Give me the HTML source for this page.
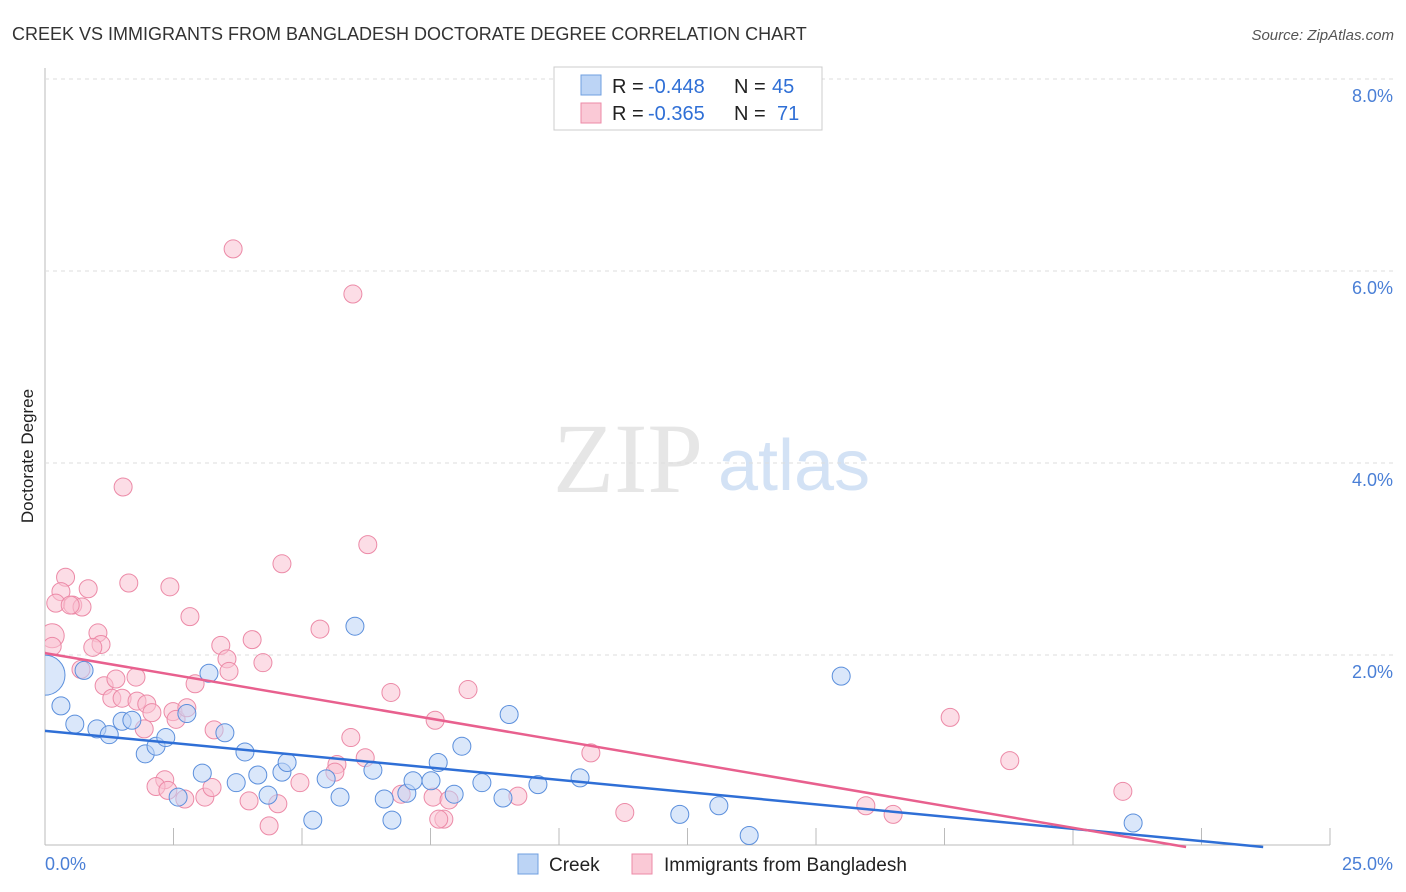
<!DOCTYPE html>
<html><head><meta charset="utf-8"><style>
body{margin:0;background:#fff;font-family:"Liberation Sans",sans-serif;}
#wrap{position:relative;width:1406px;height:892px;overflow:hidden;}
</style></head><body>
<div id="wrap">
<svg id="svg" width="1406" height="892" xmlns="http://www.w3.org/2000/svg">
<defs><clipPath id="plotclip"><rect x="45" y="60" width="1360" height="790"/></clipPath></defs>
<text x="12" y="40" font-size="18" fill="#333">CREEK VS IMMIGRANTS FROM BANGLADESH DOCTORATE DEGREE CORRELATION CHART</text>
<text x="1394" y="40" font-size="15" fill="#555" font-style="italic" text-anchor="end">Source: ZipAtlas.com</text>
<text x="33" y="456" font-size="17" fill="#222" text-anchor="middle" transform="rotate(-90 33 456)">Doctorate Degree</text>
<text x="553" y="492" font-size="100" fill="#e6e6e6" font-family="Liberation Serif,serif">ZIP</text>
<text x="718" y="490" font-size="72" fill="#d3e2f5">atlas</text>
<g id="grid"></g><g id="marks" clip-path="url(#plotclip)"></g>
<g>
<rect x="554" y="67" width="268" height="63" fill="#fff" stroke="#ccc"/>
<rect x="581" y="75" width="20" height="20" fill="#bcd4f5" stroke="#6f9fe0"/>
<rect x="581" y="103" width="20" height="20" fill="#fac9d6" stroke="#ec8aa7"/>
<text x="612" y="93" font-size="20" fill="#222">R =</text>
<text x="648" y="93" font-size="20" fill="#2f6fd6">-0.448</text>
<text x="734" y="93" font-size="20" fill="#222">N =</text>
<text x="772" y="93" font-size="20" fill="#2f6fd6">45</text>
<text x="612" y="120" font-size="20" fill="#222">R =</text>
<text x="648" y="120" font-size="20" fill="#2f6fd6">-0.365</text>
<text x="734" y="120" font-size="20" fill="#222">N =</text>
<text x="777" y="120" font-size="20" fill="#2f6fd6">71</text>
</g>
<g>
<rect x="518" y="854" width="20" height="20" fill="#bcd4f5" stroke="#6f9fe0"/>
<text x="549" y="871" font-size="19" fill="#222">Creek</text>
<rect x="632" y="854" width="20" height="20" fill="#fac9d6" stroke="#ec8aa7"/>
<text x="664" y="871" font-size="19" fill="#222">Immigrants from Bangladesh</text>
</g>
</svg></div>
<script>
const xTicks=[0,2.5,5,7.5,10,12.5,15,17.5,20,22.5,25];
const yTicks=[2,4,6,8];
const yTickLabels=["2.0%","4.0%","6.0%","8.0%"];
const creekX=[0,0.76,0.31,0.58,1.01,1.25,1.5,1.69,1.95,2.16,2.35,2.59,2.76,3.19,3.06,3.5,3.72,3.89,4.14,4.34,4.61,4.71,5.21,5.47,5.74,6.03,6.38,6.6,6.75,7.04,7.16,7.51,7.65,7.96,8.11,8.5,8.91,9.03,9.59,10.41,12.35,13.11,13.7,15.49,21.17];
const creekY=[1.79,1.84,1.47,1.28,1.23,1.17,1.31,1.32,0.97,1.05,1.14,0.52,1.39,1.81,0.77,1.19,0.67,0.99,0.75,0.54,0.78,0.88,0.28,0.71,0.52,2.3,0.8,0.5,0.28,0.56,0.69,0.69,0.88,0.55,1.05,0.67,0.51,1.38,0.65,0.72,0.34,0.43,0.12,1.78,0.25];
const bangX=[0.14,0.14,0.4,0.31,0.21,0.54,0.72,0.84,0.49,1.03,1.09,0.93,1.52,1.63,2.43,2.82,3.66,5.99,6.28,4.61,5.35,4.03,3.42,3.54,3.58,4.24,2.92,0.7,1.15,1.38,1.77,1.3,1.5,1.79,1.98,2.08,2.49,2.55,2.76,1.93,3.29,6.73,8.23,5.95,7.59,10.62,18.77,17.61,20.97,6.23,5.68,5.64,2.33,2.16,2.39,2.72,3.11,3.25,3.97,4.53,4.96,4.36,6.93,7.55,7.76,7.66,9.2,7.86,11.28,15.97,16.5];
const bangY=[2.2,2.09,2.81,2.66,2.54,2.52,2.5,2.69,2.52,2.23,2.11,2.08,3.75,2.75,2.71,2.4,6.23,5.76,3.15,2.95,2.27,2.16,2.1,1.96,1.83,1.92,1.70,1.85,1.68,1.75,1.77,1.55,1.55,1.52,1.49,1.4,1.41,1.33,1.45,1.23,1.22,1.61,1.64,1.14,1.32,0.98,0.9,1.35,0.58,0.93,0.86,0.78,0.7,0.63,0.59,0.5,0.52,0.62,0.48,0.45,0.67,0.22,0.55,0.52,0.29,0.29,0.53,0.49,0.36,0.43,0.34];
const creekSize=[20];const bangSize=[12,9];
const trendIntercept=[1.21,2.02];const trendZero=[23.7,22.2];
const sx=v=>45+v*51.4, sy=v=>847-v*96;
const NS="http://www.w3.org/2000/svg";
const grid=document.getElementById('grid'),marks=document.getElementById('marks');
function mk(t,a,p){const e=document.createElementNS(NS,t);for(const k in a)e.setAttribute(k,a[k]);p.appendChild(e);return e;}
let ax=mk('line',{x1:45,y1:845,x2:1330,y2:845,stroke:'#bbb'},grid);


let ay=mk('line',{x1:45,y1:68,x2:45,y2:845,stroke:'#bbb'},grid);


xTicks.forEach((t,i)=>{if(i==0)return;const l=mk('line',{x1:sx(t),y1:828,x2:sx(t),y2:845,stroke:'#bbb'},grid);

});
yTicks.forEach((t,i)=>{const l=mk('line',{x1:45,y1:sy(t),x2:1395,y2:sy(t),stroke:'#ddd','stroke-dasharray':'4,4'},grid);


const tx=mk('text',{x:1393,y:sy(t)+23,'font-size':18,fill:'#4a7fd6','text-anchor':'end'},grid);tx.textContent=yTickLabels[i];

});
const x0=mk('text',{x:45,y:870,'font-size':18,fill:'#4a7fd6'},grid);x0.textContent='0.0%';


const x1=mk('text',{x:1393,y:870,'font-size':18,fill:'#4a7fd6','text-anchor':'end'},grid);x1.textContent='25.0%';


function pts(X,Y,fill,stroke,sizes,name){X.forEach((x,i)=>{const c=mk('circle',{cx:sx(x),cy:sy(Y[i]),r:sizes[i]||9,fill:fill,stroke:stroke,'stroke-width':1,'fill-opacity':0.55},marks);

});}
pts(bangX,bangY,'#fac1d1','#ec8aa7',bangSize,'bangladesh-point');
pts(creekX,creekY,'#bcd4f5','#5b8fdc',creekSize,'creek-point');
const cols=['#2f6fd6','#e8608e'],nm=['creek-trend-line','bangladesh-trend-line'];
[0,1].forEach(i=>{const l=mk('line',{x1:sx(0),y1:sy(trendIntercept[i]),x2:sx(trendZero[i]),y2:sy(0),stroke:cols[i],'stroke-width':2.5},marks);

});
</script>
</body></html>
